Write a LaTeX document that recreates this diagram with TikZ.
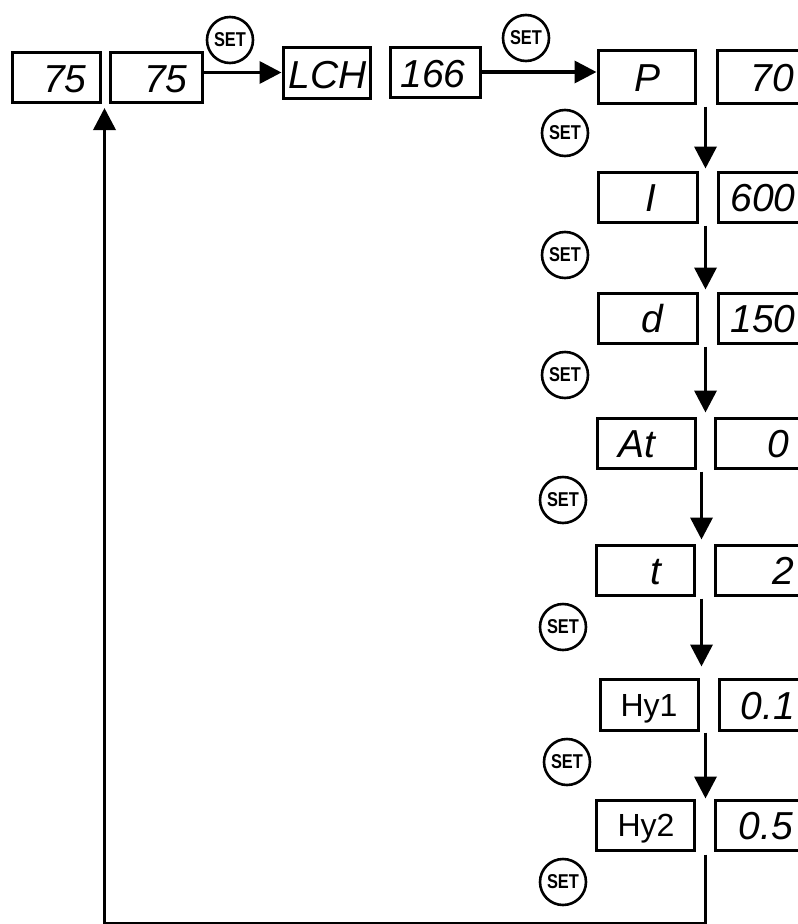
\documentclass[tikz,border=0pt]{standalone}
\usepackage{fontspec}
\setmainfont{Liberation Sans}
\newfontfamily\setfont[FakeStretch=0.82]{Liberation Sans}
\usetikzlibrary{calc,arrows.meta}
\begin{document}
\begin{tikzpicture}[x=1pt,y=-1pt,
  box/.style={draw, line width=3pt, inner sep=0pt, minimum height=50pt},
  seg/.style={font=\fontsize{39}{39}\selectfont\itshape, inner sep=0pt, anchor=base},
  lbl/.style={font=\fontsize{32}{32}\selectfont, inner sep=0pt, anchor=base},
  setb/.style={draw, circle, line width=2.6pt, minimum size=46pt, inner sep=0pt, font=\setfont\fontsize{20}{20}\selectfont\bfseries},
  conn/.style={line width=3.6pt},
  arr/.style={conn, -{Triangle[length=22pt,width=22pt]}}]
\useasboundingbox (0,0) rectangle (798,924);
\clip (0,0) rectangle (798,924);
% boxes
\node[box, minimum width=88pt] (A) at (56,77.5) {};
\node[box, minimum width=92pt] (B) at (156,77.5) {};
\node[box, minimum width=87pt, minimum height=51pt] (LCH) at (326.5,72.5) {};
\node[box, minimum width=90pt] (N166) at (435,72) {};
\node[box, minimum width=97pt, minimum height=53pt] (P) at (646.5,76.5) {};
\node[box, minimum width=93pt, minimum height=53pt] (V70) at (763.5,76.5) {};
\node[box, minimum width=99pt] (I) at (647.5,197) {};
\node[box, minimum width=92pt] (V600) at (764,197) {};
\node[box, minimum width=99pt] (D) at (647.5,318) {};
\node[box, minimum width=92pt] (V150) at (764,318) {};
\node[box, minimum width=98pt] (At) at (646,443) {};
\node[box, minimum width=95pt] (V0) at (762.5,443) {};
\node[box, minimum width=98pt] (T) at (645,570) {};
\node[box, minimum width=95pt] (V2) at (762.5,570) {};
\node[box, minimum width=98pt, minimum height=51pt] (Hy1) at (649,704.5) {};
\node[box, minimum width=91pt, minimum height=51pt] (V01) at (764.5,704.5) {};
\node[box, minimum width=98pt] (Hy2) at (645,825) {};
\node[box, minimum width=95pt] (V05) at (762.5,825) {};
% texts
\node[seg] (tA) at (65,92) {75};
\node[seg] (tB) at (166,92) {75};
\node[seg] (tLCH) at (328,88) {LCH};
\node[seg] (t166) at (433,87) {166};
\node[seg] (tP) at (647,91) {P};
\node[seg] (t70) at (772,91) {70};
\node[seg] (tI) at (651,211) {I};
\node[seg] (t600) at (763,211) {600};
\node[seg] (tD) at (652,332) {d};
\node[seg] (t150) at (763,332) {150};
\node[seg] (tAt) at (637,457) {At};
\node[seg] (t0) at (778,457) {0};
\node[seg] (tT) at (656,584) {t};
\node[seg] (t2) at (783,584) {2};
\node[lbl] (tHy1) at (649,716) {Hy1};
\node[seg] (t01) at (768,719) {0.1};
\node[lbl] (tHy2) at (646,836) {Hy2};
\node[seg] (t05) at (766,839) {0.5};
% SET buttons
\node[setb] (set1) at (230,40) {SET};
\node[setb] (set2) at (526,38) {SET};
\node[setb] (set3) at (565,133) {SET};
\node[setb] (set4) at (565,255) {SET};
\node[setb] (set5) at (565,375) {SET};
\node[setb] (set6) at (563,500) {SET};
\node[setb] (set7) at (563,627) {SET};
\node[setb] (set8) at (567,762) {SET};
\node[setb] (set9) at (563,882) {SET};
% connectors
\draw[arr] (B.east |- LCH.west) -- (LCH.west);
\draw[arr] (N166.east) -- (N166.east -| P.west);
\coordinate (s1) at ($(P.south east)+(9,2)$);
\coordinate (s2) at ($(I.north east)+(7,55)$);
\coordinate (s3) at ($(D.north east)+(7,55)$);
\coordinate (s4) at ($(At.north east)+(5,55)$);
\coordinate (s5) at ($(T.north east)+(6,55)$);
\coordinate (s6) at ($(Hy1.north east)+(6,55)$);
\coordinate (s7) at ($(Hy2.north east)+(10,56)$);
\draw[arr] (s1) -- ($(s1 |- I.north)+(0,-2)$);
\draw[arr] (s2) -- ($(s2 |- D.north)+(0,-2)$);
\draw[arr] (s3) -- ($(s3 |- At.north)+(0,-4)$);
\draw[arr] (s4) -- ($(s4 |- T.north)+(0,-4)$);
\draw[arr] (s5) -- ($(s5 |- Hy1.north)+(0,-11)$);
\draw[arr] (s6) -- ($(s6 |- Hy2.north)+(0,0)$);
\coordinate (bot) at (0,924);
\coordinate (ret) at ($(A.south east)+(3,4)$);
\draw[arr] (s7) -- (s7 |- bot) -| (ret);
\end{tikzpicture}
\end{document}
